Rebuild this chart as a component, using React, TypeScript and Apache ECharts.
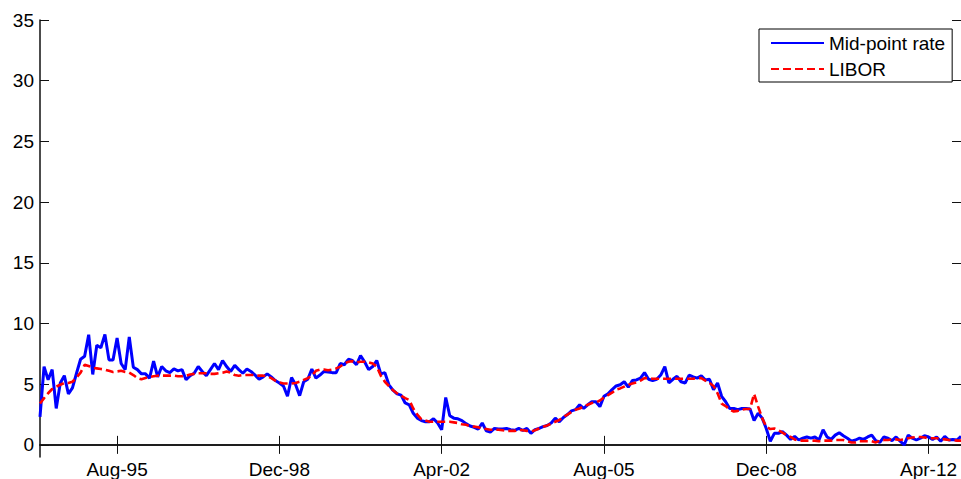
import React, { useEffect, useRef } from "react";
import * as echarts from "echarts";

// Monthly observations, Jan-94 through Dec-12
const START_YEAR = 1994;
const MONTH_NAMES = ["Jan", "Feb", "Mar", "Apr", "May", "Jun", "Jul", "Aug", "Sep", "Oct", "Nov", "Dec"];

const tickLabels = ["Aug-95", "Dec-98", "Apr-02", "Aug-05", "Dec-08", "Apr-12"];
const yTicks = [0, 5, 10, 15, 20, 25, 30, 35];

const midPointRate = [
  // 1994 - 1997
  2.3, 6.45, 5.36, 6.2, 3.0, 5.1, 5.7, 4.2, 4.7, 5.9, 7.05, 7.3,
  9.07, 5.8, 8.2, 8.0, 9.1, 7.0, 7.0, 8.8, 6.7, 6.2, 8.9, 6.4,
  6.2, 5.85, 5.85, 5.5, 6.9, 5.6, 6.45, 6.1, 5.96, 6.26, 6.1, 6.2,
  5.36, 5.7, 5.9, 6.45,
  6.05, 5.7, 6.2, 6.7, 6.2, 6.95, 6.45, 6.05,
  // 1998 - 2000
  6.55, 6.2, 5.9, 6.25, 6.05, 5.75, 5.4, 5.6, 5.85, 5.6, 5.3, 5.1,
  4.85, 4.0, 5.55, 4.95, 4.05, 5.2, 5.4, 6.25, 5.5, 5.75, 6.05, 6.0,
  5.95, 5.95, 6.7, 6.6, 7.05, 6.95, 6.6, 7.35, 6.85, 6.2, 6.45, 6.95,
  // 2001 - 2003
  5.85, 5.95, 4.95, 4.5, 4.2, 4.1, 3.45, 3.3, 2.6, 2.2, 2.0, 1.9,
  1.9, 2.15, 1.8, 1.25, 3.9, 2.4, 2.2, 2.15, 2.0, 1.75, 1.55, 1.45,
  1.3, 1.8, 1.15, 1.05, 1.35, 1.3, 1.3, 1.35, 1.25, 1.2, 1.35, 1.2,
  // 2004 - 2006
  1.35, 0.95, 1.25, 1.35, 1.5, 1.6, 1.8, 2.2, 1.9, 2.25, 2.5, 2.8,
  2.9, 3.3, 3.0, 3.3, 3.55, 3.55, 3.15, 4.0, 4.2, 4.55, 4.85, 4.95,
  5.2, 4.75, 5.3, 5.35, 5.5, 5.95, 5.4, 5.3, 5.4, 5.75, 6.45, 5.1,
  // 2007 - 2009
  5.4, 5.65, 5.2, 5.1, 5.75, 5.6, 5.5, 5.7, 5.35, 5.4, 4.55, 5.1,
  4.0, 3.55, 3.0, 3.0, 2.9, 3.0, 3.0, 2.95, 2.0, 2.6, 2.2, 1.35,
  0.3, 0.95, 0.95, 1.1, 0.8, 0.45, 0.7, 0.4, 0.55, 0.65, 0.55, 0.65,
  // 2010 - 2012
  0.4, 1.25, 0.65, 0.45, 0.8, 1.0, 0.75, 0.55, 0.3, 0.4, 0.55, 0.45,
  0.65, 0.8, 0.35, 0.2, 0.65, 0.55, 0.35, 0.65, 0.3, 0.0, 0.8, 0.55,
  0.4, 0.55, 0.75, 0.65, 0.45, 0.65, 0.3, 0.7, 0.4, 0.45, 0.4, 0.7,
];

const libor = [
  // 1994 - 1997
  3.4, 3.85, 4.25, 4.6, 4.8, 4.95, 5.1, 5.1, 5.2, 5.55, 5.95, 6.6,
  6.5, 6.35, 6.3, 6.25, 6.2, 6.1, 6.0, 6.05, 6.1, 6.0, 5.95, 5.75,
  5.5, 5.4, 5.5, 5.6, 5.65, 5.7, 5.7, 5.7, 5.7, 5.7, 5.65, 5.65,
  5.7, 5.8, 5.85, 5.9,
  5.9, 5.9, 5.85, 5.85, 5.9, 5.95, 6.05, 5.95,
  // 1998 - 2000
  5.75, 5.7, 5.75, 5.75, 5.75, 5.75, 5.7, 5.7, 5.65, 5.5, 5.3, 5.15,
  5.05, 5.05, 5.05, 5.1, 5.2, 5.35, 5.5, 5.7, 6.1, 6.2, 6.2, 6.15,
  6.2, 6.3, 6.45, 6.7, 6.85, 6.9, 6.8, 6.85, 6.85, 6.8, 6.7, 6.45,
  // 2001 - 2003
  5.7, 5.2, 4.85, 4.5, 4.25, 4.05, 3.85, 3.7, 3.0, 2.5, 2.1, 2.0,
  1.9, 1.9, 1.9, 1.9, 1.9, 1.9, 1.85, 1.8, 1.7, 1.65, 1.55, 1.5,
  1.45, 1.35, 1.3, 1.25, 1.25, 1.25, 1.2, 1.15, 1.15, 1.15, 1.25, 1.2,
  // 2004 - 2006
  1.15, 1.1, 1.2, 1.35, 1.5, 1.6, 1.75, 1.9, 2.05, 2.3, 2.5, 2.7,
  2.9, 3.0, 3.15, 3.3, 3.45, 3.5, 3.65, 3.9, 4.1, 4.3, 4.55, 4.65,
  4.8, 4.95, 5.05, 5.15, 5.3, 5.5, 5.5, 5.45, 5.45, 5.45, 5.45, 5.45,
  // 2007 - 2009
  5.45, 5.45, 5.45, 5.45, 5.45, 5.45, 5.5, 5.5, 5.3, 5.1, 4.85, 4.25,
  3.4, 3.2, 2.9, 2.75, 2.8, 2.9, 2.95, 2.95, 4.2, 3.15, 2.2, 1.5,
  1.3, 1.35, 1.2, 1.0, 0.8, 0.65, 0.45, 0.35, 0.35, 0.35, 0.35, 0.35,
  // 2010 - 2012
  0.3, 0.35, 0.35, 0.35, 0.4, 0.4, 0.4, 0.3, 0.2, 0.2, 0.3, 0.3,
  0.3, 0.3, 0.2, 0.35, 0.4, 0.4, 0.45, 0.45, 0.4, 0.45, 0.55, 0.6,
  0.65, 0.65, 0.6, 0.55, 0.55, 0.55, 0.5, 0.45, 0.4, 0.4, 0.35, 0.35,
];

const categories = midPointRate.map((_, i) => {
  const year = (START_YEAR + Math.floor(i / 12)) % 100;
  return `${MONTH_NAMES[i % 12]}-${String(year).padStart(2, "0")}`;
});

const FONT = "'Liberation Sans', Arial, Helvetica, sans-serif";
const AXIS_COLOR = "#111";
const FONT_SIZE = 19;

export default function App() {
  const ref = useRef<HTMLDivElement>(null);

  useEffect(() => {
    document.body.style.margin = "0";
    if (!ref.current) return;
    const chart = echarts.init(ref.current, undefined, { renderer: "svg" });

    const showTick = (_: number, value: string) => tickLabels.includes(value);

    chart.setOption({
      animation: false,
      backgroundColor: "#fff",
      textStyle: { fontFamily: FONT },
      grid: { left: 40, right: 0, top: 20, bottom: 22, outerBoundsMode: "none" },
      legend: {
        orient: "vertical",
        left: 759,
        top: 29,
        padding: [4, 7, 3, 11],
        itemWidth: 53,
        itemHeight: 14,
        itemGap: 6,
        backgroundColor: "#fff",
        borderColor: "#000",
        borderWidth: 1,
        borderRadius: 0,
        itemStyle: { opacity: 0 },
        lineStyle: { width: 2 },
        textStyle: { fontSize: FONT_SIZE, color: "#000", fontFamily: FONT, lineHeight: 20 },
        data: ["Mid-point rate", "LIBOR"],
      },
      xAxis: [
        {
          type: "category",
          data: categories,
          boundaryGap: false,
          axisLine: { lineStyle: { color: AXIS_COLOR, width: 1.5 } },
          axisTick: {
            inside: true,
            length: 9,
            interval: showTick,
            lineStyle: { color: AXIS_COLOR, width: 1 },
          },
          axisLabel: {
            interval: showTick,
            fontSize: FONT_SIZE,
            color: "#000",
            fontFamily: FONT,
            margin: 3,
          },
          splitLine: { show: false },
        },
        {
          type: "category",
          data: categories,
          position: "top",
          boundaryGap: false,
          axisLine: { lineStyle: { color: AXIS_COLOR, width: 1.5 } },
          axisTick: {
            inside: true,
            length: 9,
            interval: showTick,
            lineStyle: { color: AXIS_COLOR, width: 1 },
          },
          axisLabel: { show: false },
          splitLine: { show: false },
        },
      ],
      yAxis: [
        {
          type: "value",
          min: -1,
          max: 35,
          axisLine: { show: true, lineStyle: { color: AXIS_COLOR, width: 1.5 } },
          axisTick: {
            show: true,
            inside: true,
            length: 9,
            customValues: yTicks,
            lineStyle: { color: AXIS_COLOR, width: 1 },
          },
          axisLabel: {
            customValues: yTicks,
            fontSize: FONT_SIZE,
            color: "#000",
            fontFamily: FONT,
            margin: 6,
          },
          splitLine: { show: false },
        },
        {
          type: "value",
          min: -1,
          max: 35,
          position: "right",
          axisLine: { show: false },
          axisTick: {
            show: true,
            inside: true,
            length: 9,
            customValues: yTicks,
            lineStyle: { color: AXIS_COLOR, width: 1 },
          },
          axisLabel: { show: false },
          splitLine: { show: false },
        },
      ],
      series: [
        {
          name: "Mid-point rate",
          type: "line",
          data: midPointRate,
          symbol: "none",
          lineStyle: { color: "#0000ff", width: 3 },
          itemStyle: { color: "#0000ff" },
        },
        {
          name: "LIBOR",
          type: "line",
          data: libor,
          symbol: "none",
          lineStyle: { color: "#ff0000", width: 2.6, type: [8, 4] },
          itemStyle: { color: "#ff0000" },
        },
      ],
    });

    return () => chart.dispose();
  }, []);

  return <div ref={ref} style={{ width: 961, height: 479 }} />;
}
